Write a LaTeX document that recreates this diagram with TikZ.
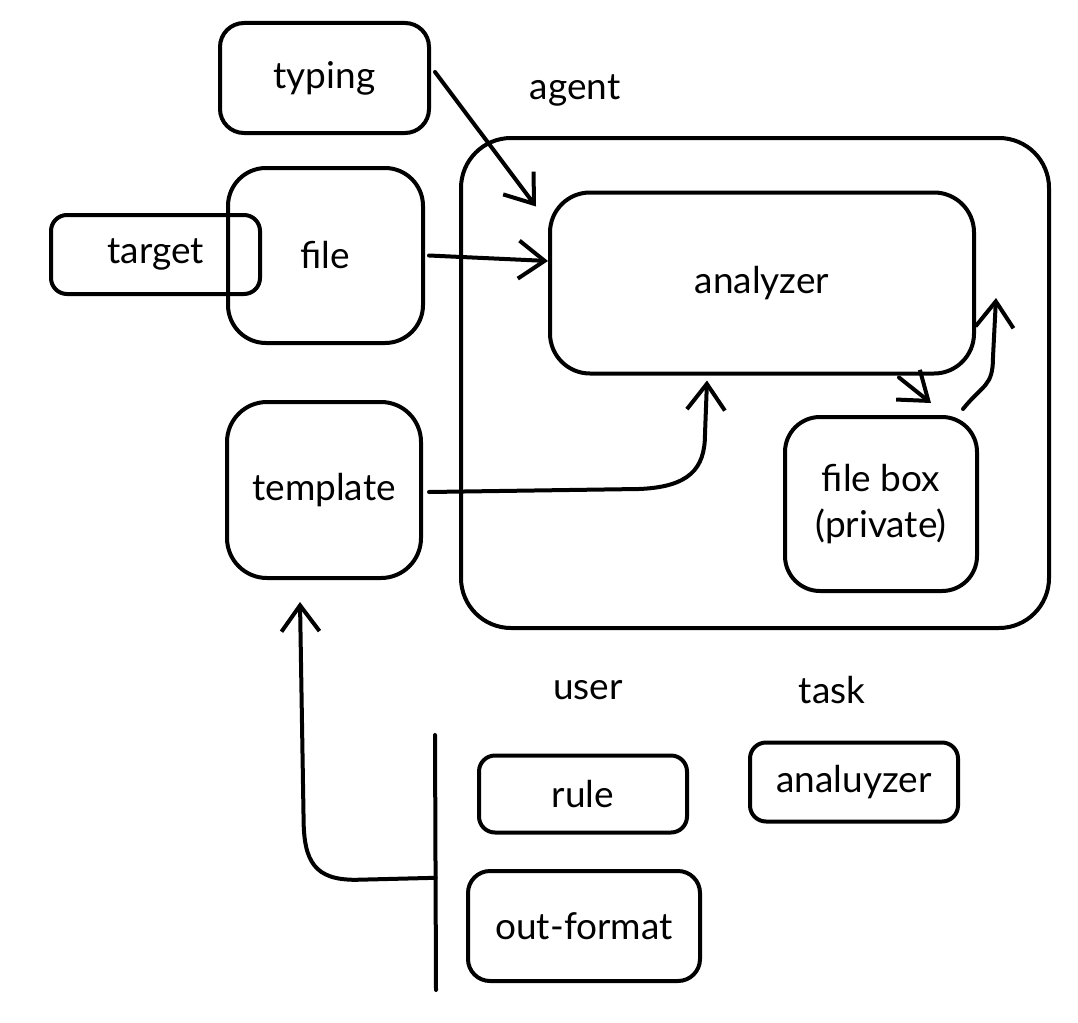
\documentclass[tikz,border=0pt]{standalone}
\usepackage{fontspec}
\setmainfont{Lato}
\usetikzlibrary{arrows.meta,calc}

\tikzset{
  sketch/.style={draw, line width=4pt, rounded corners=#1, inner sep=0pt, align=center},
  sketch/.default=30pt,
  lbl/.style={font=\fontsize{37}{46}\selectfont},
  arr/.style={line width=4pt, line cap=round, -{Straight Barb[length=26pt,width=38pt]}},
}

\begin{document}
\begin{tikzpicture}[x=1pt,y=1pt]
	\useasboundingbox (0,0) rectangle (1078,-1022);
	\tikzstyle{every node}+=[lbl]
	% agent frame
	\node [sketch=50pt, minimum width=588pt, minimum height=490pt] (agent) at (755,-383) {};
	\node (agenttxt) at (575,-90) {agent};
	\node [sketch=40pt, minimum width=424pt, minimum height=181pt] (analyzer) at (762,-283) {analyzer};
	\node [sketch=35pt, minimum width=192pt, minimum height=174pt] (filebox) at (881,-504) {file box\\(private)};
	% inputs
	\node [sketch=24pt, minimum width=209pt, minimum height=110pt] (typing) at (324.5,-78) {typing};
	\node [sketch=38pt, minimum width=195pt, minimum height=175pt] (file) at (325.5,-255.5) {file};
	\node [sketch=16pt, minimum width=209pt, minimum height=79pt] (target) at (155.5,-254.5) {target};
	\node [sketch=40pt, minimum width=194pt, minimum height=176pt] (template) at (324,-490) {template};
	% user / task
	\node (usertxt) at (588,-690) {user};
	\node (tasktxt) at (832,-690) {task};
	\node [sketch=16pt, minimum width=208pt, minimum height=77pt] (rule) at (583,-794) {rule};
	\node [sketch=16pt, minimum width=208pt, minimum height=79pt] (analuyzer) at (854,-782) {analuyzer};
	\node [sketch=22pt, minimum width=232pt, minimum height=110pt] (outformat) at (584,-926) {out-format};
	\coordinate (bartop) at (435,-735);
	\coordinate (barbot) at (436,-990);
	\draw [line width=4pt, line cap=round] (bartop) -- (barbot);
	% connectors
	\draw [arr] ([xshift=4pt,yshift=6pt]typing.east) -- ([xshift=-12pt,yshift=-16pt]analyzer.north west);
	\draw [arr] ([xshift=4pt]file.east) -- ([yshift=22pt]analyzer.west);
	\draw [arr] ([xshift=6pt,yshift=-2pt]template.east) -- ++(210,3) .. controls +(50,2) and +(0,-35) .. ++(66,55) -- ([xshift=-55pt,yshift=-5pt]analyzer.south);
	\draw [arr] ([xshift=137pt,yshift=-2pt]analyzer.south) -- ([xshift=50pt,yshift=12pt]filebox.north);
	\draw [arr] ([xshift=82pt,yshift=6pt]filebox.north) .. controls +(20,25) and +(0,-30) .. ++(30,52) -- ([xshift=20pt,yshift=-15pt]analyzer.east);
	\draw [arr] ($(bartop)!0.56!(barbot)$) -- ++(-80,-2) .. controls +(-40,0) and +(0,-45) .. ++(-52,62) -- ([xshift=-24pt,yshift=-22pt]template.south);
\end{tikzpicture}
\end{document}
